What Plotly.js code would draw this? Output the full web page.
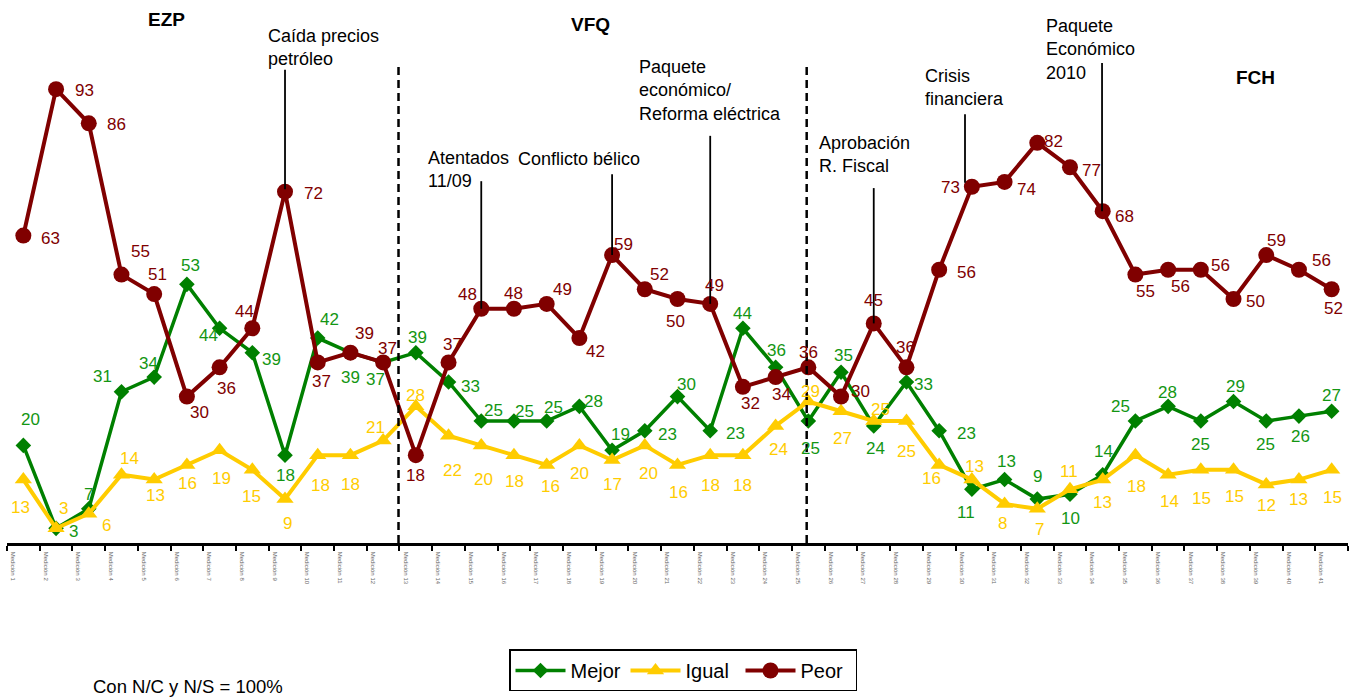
<!DOCTYPE html>
<html>
<head>
<meta charset="utf-8">
<script src="https://cdn.plot.ly/plotly-3.0.1.min.js"></script>
<style>html,body{margin:0;padding:0;background:#fff;}#chart{width:1358px;height:698px;}</style>
</head>
<body>
<div id="chart"></div>
<script>
// ---- Data ----
const periods = Array.from({length: 41}, (_, i) => 'Medición ' + (i + 1));
const mejor = [20, 3, 7, 31, 34, 53, 44, 39, 18, 42, 39, 37, 39, 33, 25, 25, 25, 28, 19, 23, 30, 23, 44, 36, 25, 35, 24, 33, 23, 11, 13, 9, 10, 14, 25, 28, 25, 29, 25, 26, 27];
const igual = [13, 3, 6, 14, 13, 16, 19, 15, 9, 18, 18, 21, 28, 22, 20, 18, 16, 20, 17, 20, 16, 18, 18, 24, 29, 27, 25, 25, 16, 13, 8, 7, 11, 13, 18, 14, 15, 15, 12, 13, 15];
const peor = [63, 93, 86, 55, 51, 30, 36, 44, 72, 37, 39, 37, 18, 37, 48, 48, 49, 42, 59, 52, 50, 49, 32, 34, 36, 30, 45, 36, 56, 73, 74, 82, 77, 68, 55, 56, 56, 50, 59, 56, 52];

// label offsets in px [dx, dy] (dy positive = down)
const mejorOff = [[7,-26],[17,3],[0,-14],[-19,-15],[-6,-14],[4,-19],[-11,7],[19,7],[0,20],[12,-19],[0,25],[-8,17],[2,-15],[22,5],[12,-11],[11,-10],[7,-14],[14,-5],[8,-16],[23,4],[9,-12],[25,3],[0,-15],[1,-17],[2,27],[2,-17],[2,23],[17,3],[27,3],[-6,23],[2,-18],[0,-23],[1,24],[1,-23],[-15,-15],[-1,-14],[0,23],[2,-15],[-1,23],[2,20],[0,-16]];
const igualOff = [[-3,28],[7,-20],[18,12],[8,-16],[1,16],[1,19],[2,28],[-1,27],[2,24],[3,30],[0,29],[-8,-13],[0,-11],[4,35],[2,34],[1,26],[4,22],[0,28],[0,24],[4,28],[1,28],[0,30],[0,30],[3,24],[2,-10],[1,27],[7,-12],[0,30],[-8,14],[3,-13],[-2,20],[2,21],[-1,-18],[0,23],[1,31],[1,27],[1,29],[1,27],[0,21],[0,20],[1,28]];
const peorOff = [[27,3],[28,1],[28,1],[19,-23],[3,-20],[13,16],[7,21],[-8,-17],[28,2],[4,19],[14,-19],[4,-14],[0,20],[4,-18],[-14,-14],[0,-15],[16,-14],[16,13],[11,-11],[15,-15],[-2,22],[4,-18],[8,17],[6,17],[0,-15],[19,-5],[0,-23],[-1,-20],[27,3],[-21,1],[22,8],[16,-1],[22,3],[22,5],[10,17],[12,17],[20,-4],[22,2],[10,-15],[23,-9],[2,19]];

// ---- Layout geometry ----
const W = 1358, H = 698, ML = 7, MR = 10, MT = 55, MB = 148;
const PW = W - ML - MR, PH = H - MT - MB;
const Y0 = 0, Y1 = 100;
const pxX = x => (x - ML) / PW;
const pxY = y => (H - MB - y) / PH;

const GREEN = '#008000', GREEN_TXT = '#139613', YELLOW = '#FFCC00', RED = '#800000';
const FONT = 'Liberation Sans, Arial, sans-serif';
const idx = mejor.map((_, i) => i);

const traces = [
  {x: idx, y: mejor, name: 'Mejor', type: 'scatter', mode: 'lines+markers', cliponaxis: false,
   line: {color: GREEN, width: 3.5}, marker: {symbol: 'diamond', size: 12, color: GREEN}},
  {x: idx, y: igual, name: 'Igual', type: 'scatter', mode: 'lines+markers', cliponaxis: false,
   line: {color: YELLOW, width: 4}, marker: {symbol: 'triangle-up', size: 15, color: YELLOW}},
  {x: idx, y: peor, name: 'Peor', type: 'scatter', mode: 'lines+markers', cliponaxis: false,
   line: {color: RED, width: 4}, marker: {symbol: 'circle', size: 16, color: RED}}
];

const annotations = [];
function addLabels(vals, offs, color) {
  vals.forEach((v, i) => {
    annotations.push({x: i, y: v, xref: 'x', yref: 'y', text: String(v), showarrow: false,
      xshift: offs[i][0], yshift: -offs[i][1], font: {family: FONT, size: 17, color: color}});
  });
}
addLabels(mejor, mejorOff, GREEN_TXT);
addLabels(igual, igualOff, YELLOW);
addLabels(peor, peorOff, RED);

// event notes
const notes = [
  {text: 'Caída precios<br>petróleo', x: 266, y: 47.5},
  {text: 'Atentados<br>11/09', x: 426, y: 171},
  {text: 'Conflicto bélico', x: 516, y: 160},
  {text: 'Paquete<br>económico/<br>Reforma eléctrica', x: 637, y: 91.5},
  {text: 'Aprobación<br>R. Fiscal', x: 817, y: 156},
  {text: 'Crisis<br>financiera', x: 923, y: 88},
  {text: 'Paquete<br>Económico<br>2010', x: 1044, y: 49}
];
notes.forEach(n => annotations.push({xref: 'paper', yref: 'paper', x: pxX(n.x), y: pxY(n.y),
  xanchor: 'left', yanchor: 'middle', align: 'left', text: n.text, showarrow: false,
  font: {family: FONT, size: 18, color: '#000'}}));

const terms = [{text: 'EZP', x: 166, y: 19}, {text: 'VFQ', x: 590, y: 24}, {text: 'FCH', x: 1255, y: 78}];
terms.forEach(t => annotations.push({xref: 'paper', yref: 'paper', x: pxX(t.x), y: pxY(t.y),
  xanchor: 'center', yanchor: 'middle', text: '<b>' + t.text + '</b>', showarrow: false,
  font: {family: FONT, size: 19, color: '#000'}}));

annotations.push({xref: 'paper', yref: 'paper', x: pxX(91), y: pxY(696), xanchor: 'left', yanchor: 'middle',
  text: 'Con N/C y N/S = 100%', showarrow: false, font: {family: FONT, size: 18.5, color: '#000'}});

// pointer lines: [x index, top pixel y, bottom value]
const pointers = [[8, 70, 72.5], [14, 183, 48], [18, 176, 59], [21, 137, 49], [26, 190, 45], [28.79, 115, 73.8], [32.98, 63, 68]];
const yv = py => (H - MB - py) / PH * (Y1 - Y0) + Y0;
const shapes = pointers.map(p => ({type: 'line', xref: 'x', yref: 'y', x0: p[0], x1: p[0], y0: yv(p[1]), y1: p[2],
  line: {color: '#000', width: 1.8}}));
[11.47, 23.95].forEach(xv => shapes.push({type: 'line', xref: 'x', yref: 'y', x0: xv, x1: xv, y0: Y0, y1: yv(67),
  line: {color: '#000', width: 2.5, dash: '8px,5px'}}));

const tickvals = idx.map(i => i - 0.5).concat([40.5]);
const ticktext = periods.concat(['']);

const layout = {
  width: W, height: H, margin: {l: ML, r: MR, t: MT, b: MB},
  paper_bgcolor: '#fff', plot_bgcolor: '#fff',
  font: {family: FONT, size: 17, color: '#000'},
  showlegend: true,
  legend: {orientation: 'h', x: pxX(683), xanchor: 'center', y: pxY(658), yanchor: 'top',
    itemwidth: 50, entrywidth: 50, entrywidthmode: 'pixels',
    bordercolor: '#000', borderwidth: 1.5, bgcolor: '#fff', font: {family: FONT, size: 20, color: '#000'}},
  xaxis: {range: [-0.5, 40.5], tickmode: 'array', tickvals: tickvals, ticktext: ticktext, tickangle: 90,
    ticklabelshift: 6, ticks: 'outside', ticklen: 5, tickwidth: 2, tickcolor: '#000',
    tickfont: {family: FONT, size: 6, color: '#666'},
    showline: true, linecolor: '#000', linewidth: 2.5, showgrid: false, zeroline: false, fixedrange: true},
  yaxis: {range: [Y0, Y1], showgrid: false, zeroline: false, showline: false, showticklabels: false, ticks: '', fixedrange: true},
  annotations: annotations,
  shapes: shapes
};

Plotly.newPlot('chart', traces, layout, {displayModeBar: false, staticPlot: true});
</script>
</body>
</html>
